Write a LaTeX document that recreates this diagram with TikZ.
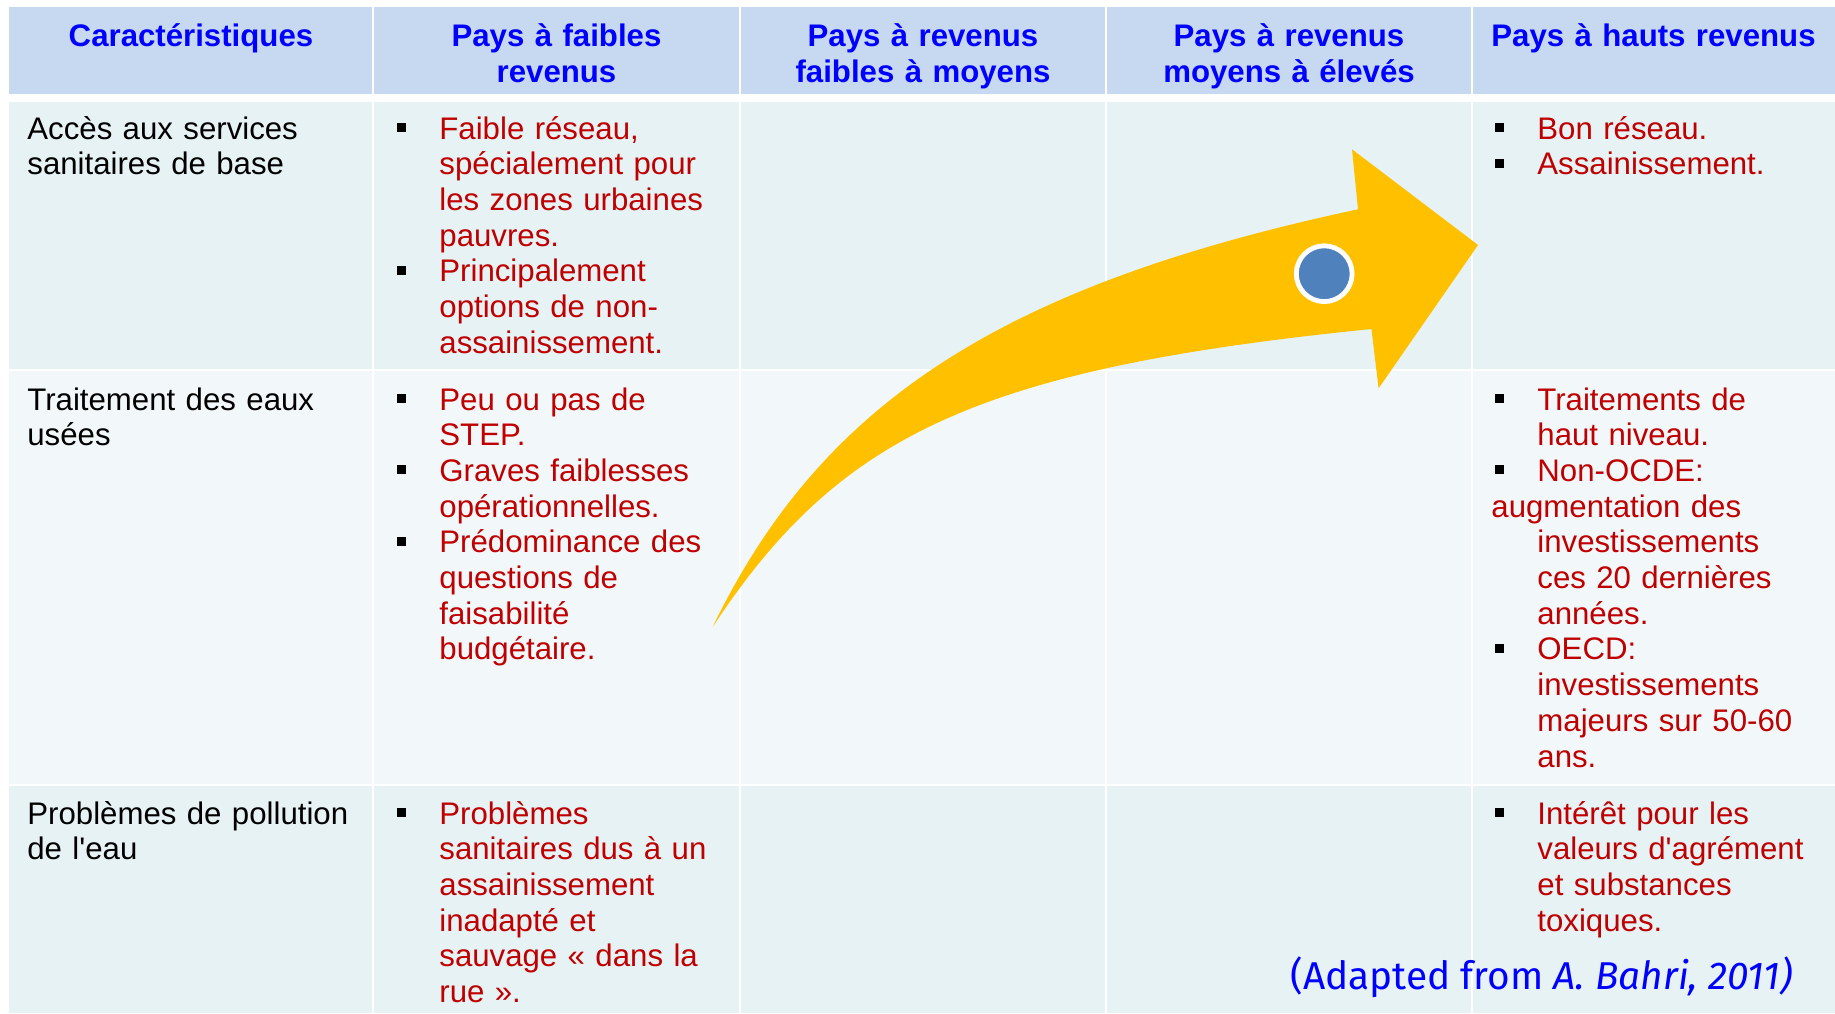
\documentclass[tikz,border=0pt]{standalone}
\usepackage{fontspec}
\setmainfont{Liberation Sans}
\newfontfamily\citefont{Fira Sans}
\usepackage{xcolor}
\usetikzlibrary{calc}
\usetikzlibrary{positioning}
\definecolor{hdrfill}{RGB}{198,217,241}
\definecolor{rowa}{RGB}{230,242,244}
\definecolor{rowb}{RGB}{242,248,250}
\definecolor{hdrblue}{RGB}{0,0,255}
\definecolor{itemred}{RGB}{192,0,0}
\definecolor{arrowgold}{RGB}{255,192,0}
\definecolor{dotblue}{RGB}{79,129,189}
\newcommand{\cellfont}{\fontsize{15.6}{17.85}\selectfont}

\begin{document}
\begin{tikzpicture}[x=0.5pt, y=-0.5pt, font=\cellfont]
    \tikzstyle{colhead}=[anchor=base, text width=180pt, align=center, inner sep=0pt, font=\fontsize{15.6}{18.15}\selectfont\bfseries, text=hdrblue]
    \tikzstyle{crittext}=[anchor=base west, text width=172pt, align=left, inner sep=0pt]
    \tikzstyle{itemtext}=[crittext, text=itemred]
    \tikzstyle{puce}=[fill=black, rectangle, minimum size=4.5pt, inner sep=0pt]
    \tikzstyle{gridline}=[white, line width=1.3pt]

    % table background
    \useasboundingbox (0,0) rectangle (1835,1013);
    \fill[white] (0,0) rectangle (1835,1013);
    \fill[hdrfill] (9,7) rectangle (1835,94);
    \fill[rowa] (9,102) rectangle (1835,370);
    \fill[rowb] (9,370) rectangle (1835,785);
    \fill[rowa] (9,785) rectangle (1835,1013);
    \foreach \y in {370,785} \draw[gridline] (9,\y) -- (1835,\y);
    \foreach \x in {373,740,1106,1472} \draw[gridline] (\x,7) -- (\x,1013);

    % column heads
    \node[colhead] (carac) at (191,46) {Caractéristiques};
    \node[colhead] (faibles) at (556.5,46) {Pays à faibles\\revenus};
    \node[colhead] (faiblesmoy) at (923,46) {Pays à revenus\\faibles à moyens};
    \node[colhead] (moyelev) at (1289,46) {Pays à revenus\\moyens à élevés};
    \node[colhead] (hauts) at (1653.5,46) {Pays à hauts revenus};

    % big arrow
    \coordinate (tail) at (712.8,626.7);
    \coordinate (neckup) at (1358,209.3);
    \coordinate (barbup) at (1352,149.3);
    \coordinate (tip) at (1478,245);
    \coordinate (barblo) at (1378.6,388.3);
    \coordinate (necklo) at (1371.4,329);
    \fill[arrowgold] (tail) .. controls (821.6,402.1) and (1002.2,285.3) .. (neckup)
        -- (barbup) -- (tip) -- (barblo) -- (necklo)
        .. controls (975,369) and (838.4,436.1) .. (tail) -- cycle;
    \node[circle, fill=dotblue, draw=white, line width=2.4pt, minimum size=27.9pt, inner sep=0pt] (dot) at (1324.2,273.7) {};

    % row 1
    \node[crittext] (acces) at (27,139) {Accès aux services\\sanitaires de base};
    \node[itemtext] (accesa) at (439,139) {Faible réseau,\\spécialement pour\\les zones urbaines\\pauvres.};
    \node[itemtext] (accesb) at (439,281.8) {Principalement\\options de non-\\assainissement.};
    \node[itemtext] (accesc) at (1537,139) {Bon réseau.};
    \node[itemtext] (accesd) at (1537,174.7) {Assainissement.};

    % row 2
    \node[crittext] (traitement) at (27,410) {Traitement des eaux\\usées};
    \node[itemtext] (traita) at (439,410) {Peu ou pas de\\STEP.};
    \node[itemtext] (traitb) at (439,481.4) {Graves faiblesses\\opérationnelles.};
    \node[itemtext] (traitc) at (439,552.8) {Prédominance des\\questions de\\faisabilité\\budgétaire.};
    \node[itemtext] (traitd) at (1537,410) {Traitements de\\haut niveau.};
    \node[itemtext] (traite) at (1537,481.4) {Non-OCDE:\\\hspace*{-23pt}augmentation des\\investissements\\ces 20 dernières\\années.};
    \node[itemtext] (traitf) at (1537,659.9) {OECD:\\investissements\\majeurs sur 50-60\\ans.};

    % row 3
    \node[crittext] (pollution) at (27,824) {Problèmes de pollution\\de l\textquotesingle eau};
    \node[itemtext] (polla) at (439,824) {Problèmes\\sanitaires dus à un\\assainissement\\inadapté et\\sauvage « dans la\\rue ».};
    \node[itemtext] (pollb) at (1537,824) {Intérêt pour les\\valeurs d\textquotesingle agrément\\et substances\\toxiques.};

    % bullets
    \foreach \n in {accesa,accesb,accesc,accesd,traita,traitb,traitc,traitd,traite,traitf,polla,pollb}
        \node[puce] (puce-\n) at ($(\n.base west)+(-38,-11.5)$) {};

    \node[anchor=base east, inner sep=0pt, font=\citefont\fontsize{19.4}{22}\selectfont, text=hdrblue] (source) at (1793,989) {(Adapted from \textit{A. Bahri, 2011)}};
\end{tikzpicture}
\end{document}
